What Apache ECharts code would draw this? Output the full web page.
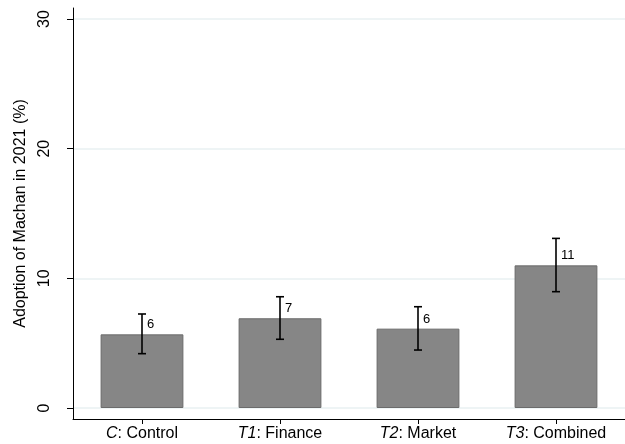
<!DOCTYPE html>
<html>
<head>
<meta charset="utf-8" />
<script src="https://cdn.jsdelivr.net/npm/echarts@6/dist/echarts.min.js"></script>
<title>Machan adoption</title>
<style>
  body { margin: 0; background: #fff; }
  #main { width: 625px; height: 444px; }
</style>
</head>
<body>
<div id="main"></div>
<script type="text/javascript">
// data
var groupCodes = ['C', 'T1', 'T2', 'T3'];
var groupNames = ['Control', 'Finance', 'Market', 'Combined'];
var means = [5.68, 6.92, 6.12, 11.0];
var ciLow = [4.19, 5.30, 4.47, 8.97];
var ciHigh = [7.25, 8.58, 7.81, 13.08];
var yTicks = [0, 10, 20, 30];

var font = 'Liberation Sans, Arial, sans-serif';
var myChart = echarts.init(document.getElementById('main'));

var errData = [];
for (var i = 0; i < means.length; i++) {
  errData.push([i, ciLow[i], ciHigh[i]]);
}

var option = {
  backgroundColor: '#fff',
  animation: false,
  textStyle: { fontFamily: font },
  grid: [
    // outer frame: axis lines (Stata style, offset from the data area)
    { left: 73, top: 8, width: 556, bottom: 25 },
    // data area
    { left: 73, top: 19, width: 556, bottom: 36 }
  ],
  xAxis: [
    {
      gridIndex: 0,
      type: 'category',
      data: groupCodes,
      axisLine: { show: true, lineStyle: { color: '#000', width: 1 } },
      axisTick: { show: true, alignWithLabel: true, length: 5, lineStyle: { color: '#000' } },
      axisLabel: {
        interval: 0,
        color: '#000',
        fontSize: 16,
        fontFamily: font,
        margin: 7,
        formatter: function (v, idx) {
          return '{i|' + v + '}: ' + groupNames[idx];
        },
        rich: {
          i: { fontStyle: 'italic', fontSize: 16, color: '#000', fontFamily: font }
        }
      }
    },
    {
      gridIndex: 1,
      type: 'category',
      data: groupCodes,
      show: false
    }
  ],
  yAxis: [
    {
      gridIndex: 0,
      type: 'value',
      min: 0,
      max: 1,
      axisLine: { show: true, lineStyle: { color: '#000', width: 1 } },
      axisTick: { show: false },
      axisLabel: { show: false },
      splitLine: { show: false }
    },
    {
      gridIndex: 1,
      type: 'value',
      min: yTicks[0],
      max: yTicks[yTicks.length - 1],
      interval: 10,
      name: 'Adoption of Machan in 2021 (%)',
      nameLocation: 'middle',
      nameGap: 44,
      nameTextStyle: { color: '#000', fontSize: 16, fontFamily: font },
      axisLine: { show: false },
      axisTick: { show: true, length: 6, lineStyle: { color: '#000' } },
      axisLabel: { color: '#000', fontSize: 16, rotate: 90, margin: 20, fontFamily: font },
      splitLine: { show: true, lineStyle: { color: '#e8f1f2', width: 1.5 } }
    }
  ],
  series: [
    {
      type: 'bar',
      xAxisIndex: 1,
      yAxisIndex: 1,
      data: means,
      barWidth: '60%',
      itemStyle: { color: '#868686', borderColor: '#6b6b6b', borderWidth: 1 },
      label: {
        show: true,
        position: 'top',
        distance: 3,
        align: 'left',
        offset: [5, 0],
        color: '#000',
        fontSize: 13,
        fontFamily: font,
        formatter: function (p) { return Math.round(p.value); }
      },
      z: 2
    },
    {
      type: 'custom',
      xAxisIndex: 1,
      yAxisIndex: 1,
      data: errData,
      z: 3,
      renderItem: function (params, api) {
        var x = api.value(0);
        var lo = api.coord([x, api.value(1)]);
        var hi = api.coord([x, api.value(2)]);
        var cap = 4;
        var st = { stroke: '#000', lineWidth: 1.6 };
        return {
          type: 'group',
          children: [
            { type: 'line', shape: { x1: hi[0], y1: hi[1], x2: lo[0], y2: lo[1] }, style: st },
            { type: 'line', shape: { x1: hi[0] - cap, y1: hi[1], x2: hi[0] + cap, y2: hi[1] }, style: st },
            { type: 'line', shape: { x1: lo[0] - cap, y1: lo[1], x2: lo[0] + cap, y2: lo[1] }, style: st }
          ]
        };
      }
    }
  ]
};
myChart.setOption(option);
</script>
</body>
</html>
